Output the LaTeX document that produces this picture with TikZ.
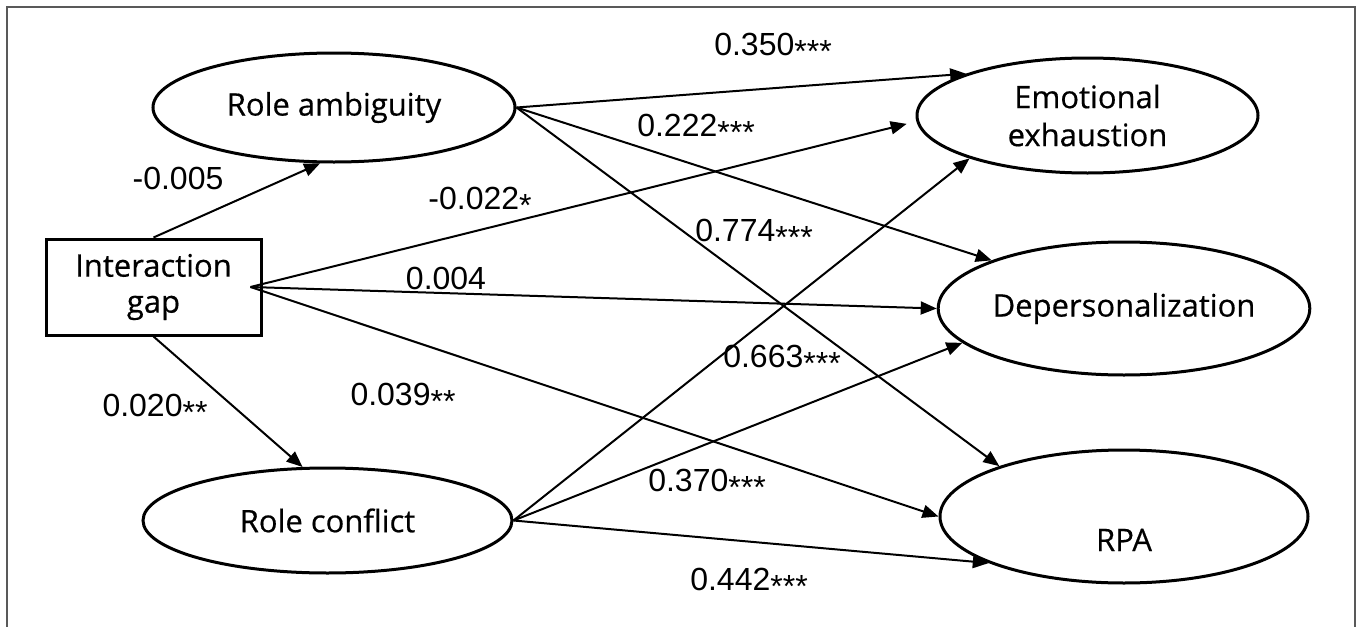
\documentclass[tikz,border=0pt]{standalone}
\usepackage{fontspec}
\newfontfamily\varfont[FakeBold=0.5]{Open Sans}
\newfontfamily\coeffont{Liberation Sans}
\newcommand{\sig}[1]{\raisebox{-0.45ex}{#1}}
\usetikzlibrary{arrows.meta,shapes.geometric,positioning,calc}
\tikzset{
    latent/.style={draw, ellipse, line width=1.5pt, inner sep=0pt, align=center, font=\varfont\fontsize{15.5pt}{19pt}\selectfont},
    observed/.style={draw, rectangle, line width=1.5pt, inner sep=0pt, align=center, font=\varfont\fontsize{15.5pt}{18pt}\selectfont},
    effect/.style={-{Triangle[length=8pt, width=6.5pt]}, line width=1pt},
    coef/.style={font=\coeffont\fontsize{16pt}{19pt}\selectfont, inner sep=0pt},
    outline/.style={line width=0.8pt, black!65}
}

\begin{document}
\begin{tikzpicture}[x=0.5pt, y=-0.5pt]
    \useasboundingbox (0,0) rectangle (1357,627);
    \draw[outline] (7,627) -- (7,7) -- (1355,7) -- (1355,627);

    \node[observed, minimum width=107.5pt, minimum height=48pt] (ig) at (153.5,287) {Interaction\\gap};
    \node[latent, minimum width=181pt, minimum height=54.5pt] (ra) at (334,107.5) {Role ambiguity};
    \node[latent, minimum width=184.5pt, minimum height=52.5pt] (rc) at (327.5,520.5) {Role conflict};
    \node[latent, minimum width=170.5pt, minimum height=57.5pt] (ee) at (1087.5,115.5) {Emotional\\exhaustion};
    \node[latent, minimum width=184pt, minimum height=66.5pt] (dp) at (1124,308.5) {Depersonalization};
    \node[latent, minimum width=184pt, minimum height=66.5pt] (rpa) at (1124,516.5) {\raisebox{-17.25pt}[0pt][0pt]{RPA}};
    \coordinate (igout) at ([xshift=-6pt]ig.east);

    \draw[effect] (ig.north) -- (ra.256);
    \draw[effect] (ig.south) -- (rc.115);
    \draw[effect, shorten >=5pt] (igout) -- (ee.182);
    \draw[effect] (igout) -- (dp.west);
    \draw[effect] (igout) -- (rpa.west);
    \draw[effect] (ra.east) -- (ee.161);
    \draw[effect] (ra.east) -- (dp.160);
    \draw[effect] (ra.east) -- (rpa.158);
    \draw[effect] (rc.east) -- (ee.200);
    \draw[effect] (rc.east) -- (dp.192);
    \draw[effect] (rc.east) -- (rpa.199);

    \node[coef] (c-ig-ra) at (178,178) {-0.005};
    \node[coef] (c-ig-rc) at (155,409) {0.020\sig{**}};
    \node[coef] (c-ra-ee) at (773,48) {0.350\sig{***}};
    \node[coef] (c-ra-dp) at (696,129) {0.222\sig{***}};
    \node[coef] (c-ig-ee) at (480,202) {-0.022\sig{*}};
    \node[coef] (c-ra-rpa) at (754,234) {0.774\sig{***}};
    \node[coef] (c-ig-dp) at (446,278) {0.004};
    \node[coef] (c-rc-ee) at (782,360) {0.663\sig{***}};
    \node[coef] (c-ig-rpa) at (403,398) {0.039\sig{**}};
    \node[coef] (c-rc-dp) at (707,484) {0.370\sig{***}};
    \node[coef] (c-rc-rpa) at (749,583) {0.442\sig{***}};
\end{tikzpicture}
\end{document}
